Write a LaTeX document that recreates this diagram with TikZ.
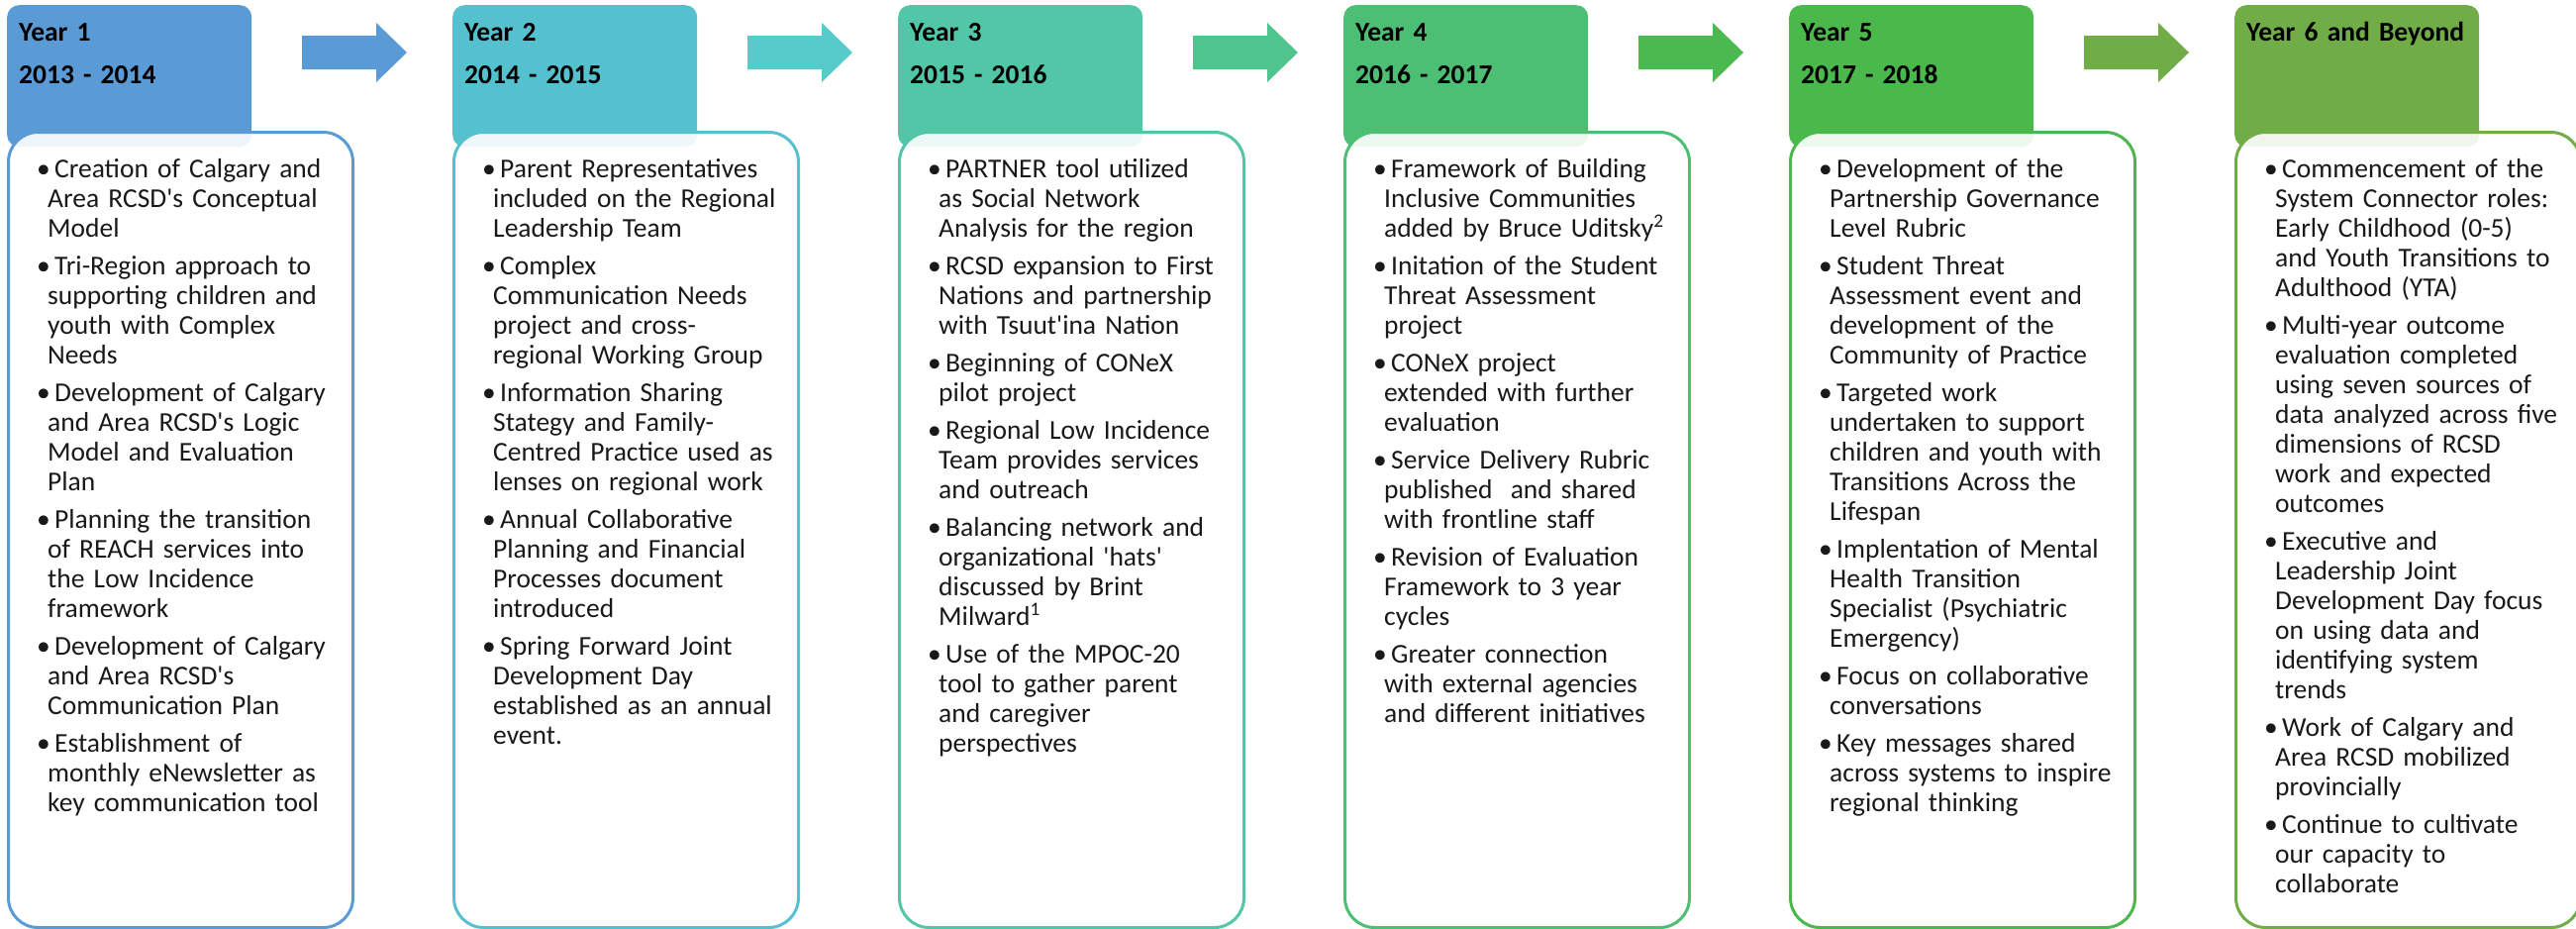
\documentclass[tikz,border=0pt]{standalone}
\usepackage{fontspec}
\setmainfont{Carlito}
\usetikzlibrary{positioning}

\definecolor{yrA}{HTML}{5B9BD5}
\definecolor{yrB}{HTML}{55C1CE}
\definecolor{yrC}{HTML}{51C7A8}
\definecolor{yrD}{HTML}{4CBF75}
\definecolor{yrE}{HTML}{4BB84B}
\definecolor{yrF}{HTML}{70AD47}
\definecolor{arB}{HTML}{55CCC9}
\definecolor{arC}{HTML}{4FC48D}
\definecolor{arD}{HTML}{4AB94F}

\newcommand{\itm}[1]{\hangindent=11pt\hangafter=1\noindent\makebox[18pt][l]{\textbullet}#1\par}
\newcommand{\q}{\textquotesingle}

\begin{document}
\begin{tikzpicture}[x=1pt, y=-1pt,
    yrhead/.style={rectangle, rounded corners=12pt, minimum width=247pt, minimum height=143pt, anchor=north west, inner sep=0pt},
    yrbox/.style={rectangle, rounded corners=30pt, line width=3pt, fill=white, fill opacity=0.9, minimum width=348pt, minimum height=803pt, anchor=north west, inner sep=0pt},
    yrtitle/.style={anchor=base west, inner sep=0pt, text width=240pt, font=\bfseries\fontsize{27.5}{43}\selectfont},
    yritems/.style={anchor=base west, inner sep=0pt, text width=330pt, text=black!90, font=\fontsize{27.5}{30}\selectfont, execute at begin node={\setlength{\parskip}{8pt}\raggedright}}]
    \useasboundingbox (0,0) rectangle (2602,937);

    % year 1
    \node[yrhead, fill=yrA] (h1) at (7,5) {};
    \node[yrbox, draw=yrA] (c1) at (7,132) {};
    \node[yrtitle] (y1) at (19,41) {Year 1\\2013 - 2014};
    \node[yritems] (t1) at (37,179) {%
        \itm{Creation of Calgary and\newline Area RCSD\q s Conceptual\newline Model}
        \itm{Tri-Region approach to\newline supporting children and\newline youth with Complex\newline Needs}
        \itm{Development of Calgary\newline and Area RCSD\q s Logic\newline Model and Evaluation\newline Plan}
        \itm{Planning the transition\newline of REACH services into\newline the Low Incidence\newline framework}
        \itm{Development of Calgary\newline and Area RCSD\q s\newline Communication Plan}
        \itm{Establishment of\newline monthly eNewsletter as\newline key communication tool}};
    \fill[yrA] (305,36) -- (380,36) -- (380,23) -- (411,53) -- (380,83) -- (380,70) -- (305,70) -- cycle;

    % year 2
    \node[yrhead, fill=yrB] (h2) at (457,5) {};
    \node[yrbox, draw=yrB] (c2) at (457,132) {};
    \node[yrtitle] (y2) at (469,41) {Year 2\\2014 - 2015};
    \node[yritems] (t2) at (487,179) {%
        \itm{Parent Representatives\newline included on the Regional\newline Leadership Team}
        \itm{Complex\newline Communication Needs\newline project and cross-\newline regional Working Group}
        \itm{Information Sharing\newline Stategy and Family-\newline Centred Practice used as\newline lenses on regional work}
        \itm{Annual Collaborative\newline Planning and Financial\newline Processes document\newline introduced}
        \itm{Spring Forward Joint\newline Development Day\newline established as an annual\newline event.}};
    \fill[arB] (755,36) -- (830,36) -- (830,23) -- (861,53) -- (830,83) -- (830,70) -- (755,70) -- cycle;

    % year 3
    \node[yrhead, fill=yrC] (h3) at (907,5) {};
    \node[yrbox, draw=yrC] (c3) at (907,132) {};
    \node[yrtitle] (y3) at (919,41) {Year 3\\2015 - 2016};
    \node[yritems] (t3) at (937,179) {%
        \itm{PARTNER tool utilized\newline as Social Network\newline Analysis for the region}
        \itm{RCSD expansion to First\newline Nations and partnership\newline with Tsuut\q ina Nation}
        \itm{Beginning of CONeX\newline pilot project}
        \itm{Regional Low Incidence\newline Team provides services\newline and outreach}
        \itm{Balancing network and\newline organizational \q hats\q\newline discussed by Brint\newline Milward\textsuperscript{1}}
        \itm{Use of the MPOC-20\newline tool to gather parent\newline and caregiver\newline perspectives}};
    \fill[arC] (1205,36) -- (1280,36) -- (1280,23) -- (1311,53) -- (1280,83) -- (1280,70) -- (1205,70) -- cycle;

    % year 4
    \node[yrhead, fill=yrD] (h4) at (1357,5) {};
    \node[yrbox, draw=yrD] (c4) at (1357,132) {};
    \node[yrtitle] (y4) at (1369,41) {Year 4\\2016 - 2017};
    \node[yritems] (t4) at (1387,179) {%
        \itm{Framework of Building\newline Inclusive Communities\newline added by Bruce Uditsky\textsuperscript{2}}
        \itm{Initation of the Student\newline Threat Assessment\newline project}
        \itm{CONeX project\newline extended with further\newline evaluation}
        \itm{Service Delivery Rubric\newline published\ \ and shared\newline with frontline staff}
        \itm{Revision of Evaluation\newline Framework to 3 year\newline cycles}
        \itm{Greater connection\newline with external agencies\newline and different initiatives}};
    \fill[arD] (1655,36) -- (1730,36) -- (1730,23) -- (1761,53) -- (1730,83) -- (1730,70) -- (1655,70) -- cycle;

    % year 5
    \node[yrhead, fill=yrE] (h5) at (1807,5) {};
    \node[yrbox, draw=yrE] (c5) at (1807,132) {};
    \node[yrtitle] (y5) at (1819,41) {Year 5\\2017 - 2018};
    \node[yritems] (t5) at (1837,179) {%
        \itm{Development of the\newline Partnership Governance\newline Level Rubric}
        \itm{Student Threat\newline Assessment event and\newline development of the\newline Community of Practice}
        \itm{Targeted work\newline undertaken to support\newline children and youth with\newline Transitions Across the\newline Lifespan}
        \itm{Implentation of Mental\newline Health Transition\newline Specialist (Psychiatric\newline Emergency)}
        \itm{Focus on collaborative\newline conversations}
        \itm{Key messages shared\newline across systems to inspire\newline regional thinking}};
    \fill[yrF] (2105,36) -- (2180,36) -- (2180,23) -- (2211,53) -- (2180,83) -- (2180,70) -- (2105,70) -- cycle;

    % year 6
    \node[yrhead, fill=yrF] (h6) at (2257,5) {};
    \node[yrbox, draw=yrF] (c6) at (2257,132) {};
    \node[yrtitle] (y6) at (2269,41) {Year 6 and Beyond};
    \node[yritems] (t6) at (2287,179) {%
        \itm{Commencement of the\newline System Connector roles:\newline Early Childhood (0-5)\newline and Youth Transitions to\newline Adulthood (YTA)}
        \itm{Multi-year outcome\newline evaluation completed\newline using seven sources of\newline data analyzed across five\newline dimensions of RCSD\newline work and expected\newline outcomes}
        \itm{Executive and\newline Leadership Joint\newline Development Day focus\newline on using data and\newline identifying system\newline trends}
        \itm{Work of Calgary and\newline Area RCSD mobilized\newline provincially}
        \itm{Continue to cultivate\newline our capacity to\newline collaborate}};
\end{tikzpicture}
\end{document}
